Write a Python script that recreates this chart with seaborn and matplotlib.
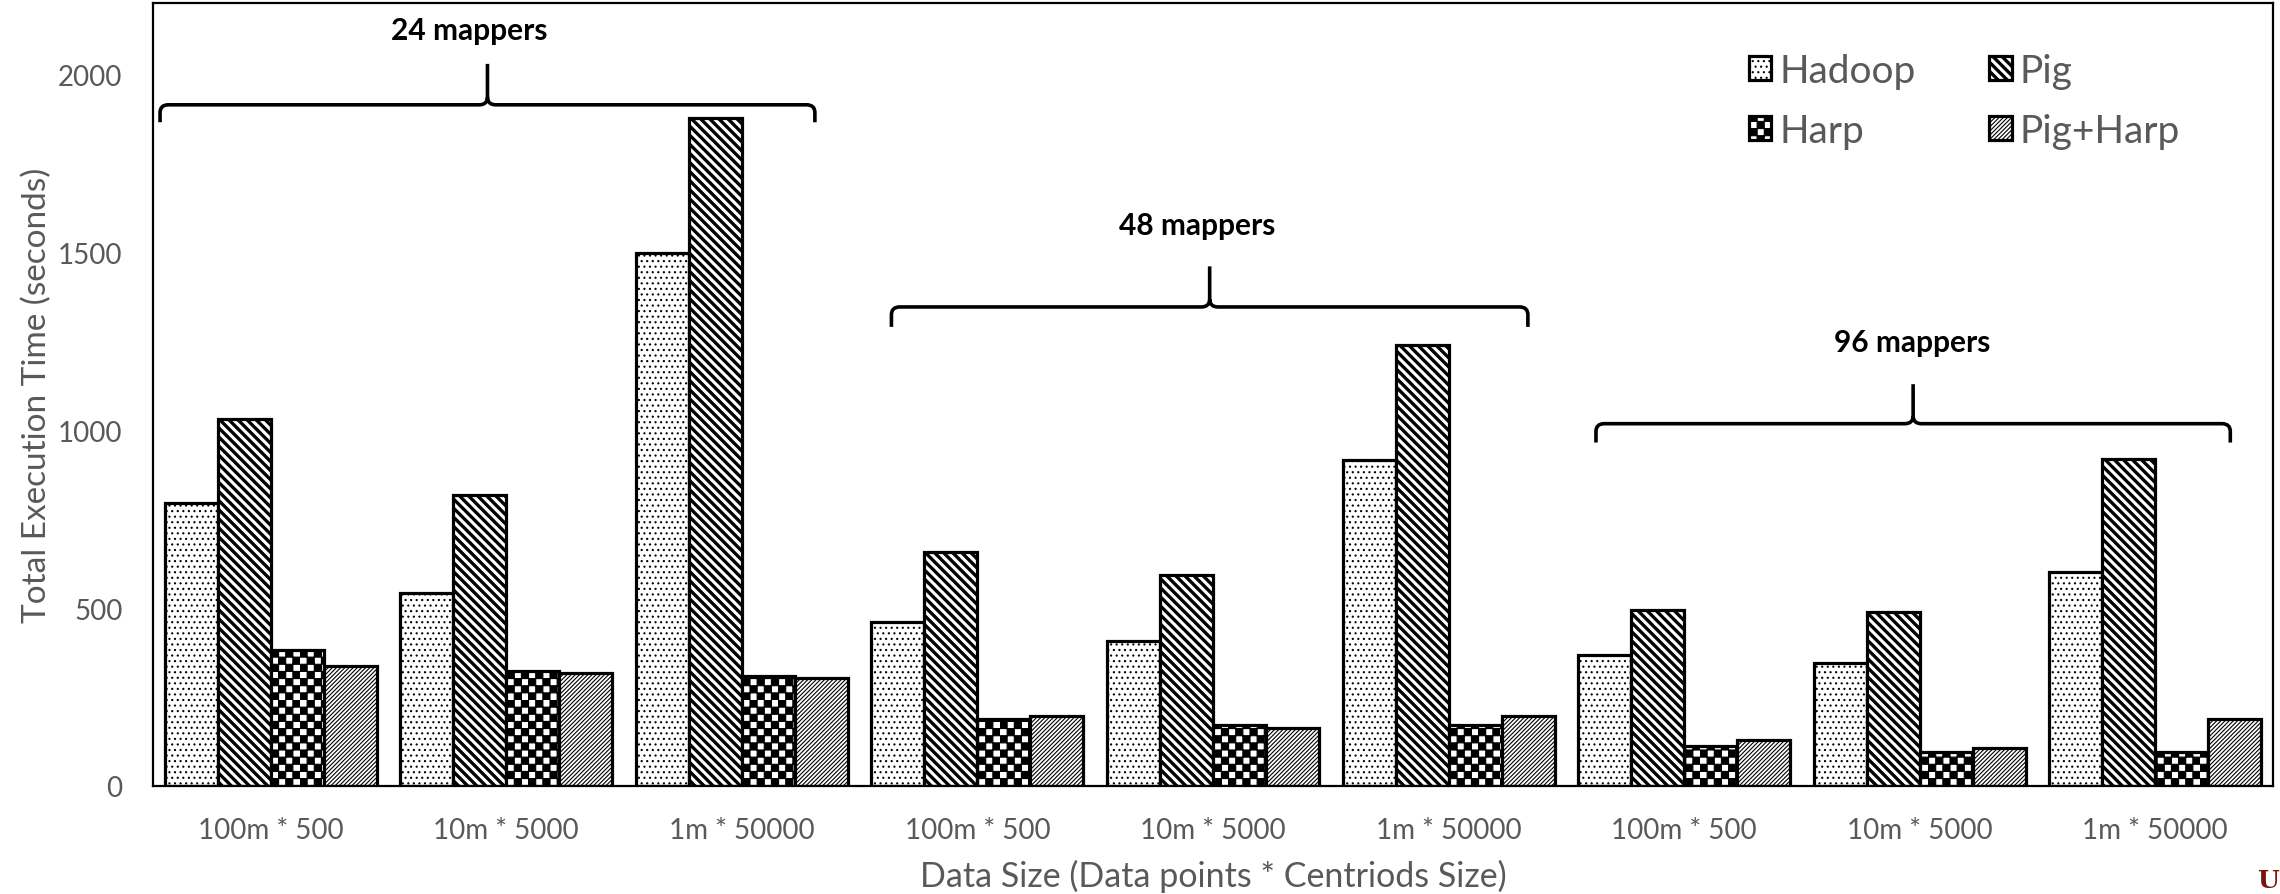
import numpy as np
import pandas as pd
import matplotlib
matplotlib.use("Agg")
import matplotlib.pyplot as plt
import matplotlib.hatch as mhatch
from matplotlib.path import Path
from matplotlib.patches import PathPatch
import seaborn as sns

# ---------------- data ----------------
tick_labels = ["100m * 500", "10m * 5000", "1m * 50000",
               "100m * 500", "10m * 5000", "1m * 50000",
               "100m * 500", "10m * 5000", "1m * 50000"]
systems = ["Hadoop", "Pig", "Harp", "Pig+Harp"]
hadoop = [796, 543, 1497, 460, 407, 917, 369, 346, 602]
pig = [1032, 817, 1877, 657, 592, 1239, 494, 490, 919]
harp = [381, 323, 310, 188, 171, 171, 112, 95, 95]
pig_harp = [338, 317, 302, 198, 163, 198, 130, 108, 188]
group_names = ["24 mappers", "48 mappers", "96 mappers"]
# bracket spans in category units (left, right), label x, and heights (line, end, tip, text)
bracket_x = [(-0.47, 2.31), (2.635, 5.337), (5.626, 8.319)]
label_x = [0.842, 3.931, 6.968]
bracket_y = [(1914, 1865, 2029, 2123), (1346, 1290, 1460, 1576), (1018, 965, 1129, 1248)]


# ---------------- custom hatch patterns ----------------
class CheckerHatch(mhatch.HatchPatternBase):
    """Checkerboard pattern bound to '*'."""
    filled = True

    def __init__(self, hatch, density):
        self.n = hatch.count('*') * 7
        self.num_vertices = (self.n * self.n // 2) * 5 if self.n else 0

    def set_vertices_and_codes(self, vertices, codes):
        n = self.n
        s = 1.0 / n
        k = 0
        for i in range(n):
            for j in range(n):
                if (i + j) % 2 == 0:
                    x, y = i * s, j * s
                    vertices[k:k + 5] = [(x, y), (x + s, y), (x + s, y + s), (x, y + s), (x, y)]
                    codes[k:k + 5] = [Path.MOVETO, Path.LINETO, Path.LINETO, Path.LINETO, Path.CLOSEPOLY]
                    k += 5


class BandHatch(mhatch.HatchPatternBase):
    """Thick back-diagonal filled stripes bound to 'O'."""
    filled = True

    def __init__(self, hatch, density):
        self.k = hatch.count('O') * 11
        self.nb = 2 * self.k + 4 if self.k else 0
        self.num_vertices = self.nb * 5

    def set_vertices_and_codes(self, vertices, codes):
        k = self.k
        w = 0.34 / k
        idx = 0
        for j in range(-2, 2 * k + 2):
            c = j / k
            vertices[idx:idx + 5] = [(-0.1, c - w / 2 + 0.1), (1.1, c - w / 2 - 1.1),
                                     (1.1, c + w / 2 - 1.1), (-0.1, c + w / 2 + 0.1),
                                     (-0.1, c - w / 2 + 0.1)]
            codes[idx:idx + 5] = [Path.MOVETO, Path.LINETO, Path.LINETO, Path.LINETO, Path.CLOSEPOLY]
            idx += 5


mhatch._hatch_types[:] = [CheckerHatch if t is mhatch.Stars else
                          (BandHatch if t is mhatch.LargeCircles else t)
                          for t in mhatch._hatch_types]

hatches = ["...", "O", "**", "////////"]

# ---------------- style ----------------
sns.set_theme(style="white")
plt.rcParams['font.family'] = ['Lato', 'DejaVu Sans']
plt.rcParams['hatch.linewidth'] = 0.8
plt.rcParams['hatch.color'] = 'black'
gray = '#595959'

df = pd.DataFrame({
    "group": np.tile(np.arange(len(tick_labels)), 4),
    "system": np.repeat(systems, len(tick_labels)),
    "time": hadoop + pig + harp + pig_harp,
})

fig = plt.figure(figsize=(22.8, 8.95), dpi=100)
ax = fig.add_axes([0.0671, 0.1207, 0.9298, 0.8748])

sns.barplot(data=df, x="group", y="time", hue="system", hue_order=systems,
            order=list(range(len(tick_labels))), palette=["white"] * 4,
            width=0.9, edgecolor="black", linewidth=2.3, saturation=1,
            legend=False, ax=ax)

for cont, h in zip(ax.containers, hatches):
    for p in cont.patches:
        p.set_hatch(h)

ax.set_xlim(-0.5, len(tick_labels) - 0.5)
ax.set_ylim(0, 2200)
ax.set_yticks([0, 500, 1000, 1500, 2000])
ax.set_xticks(range(len(tick_labels)))
ax.set_xticklabels(tick_labels)
ax.tick_params(axis='both', length=0, labelsize=20, labelcolor=gray)
ax.tick_params(axis='y', pad=22)
ax.tick_params(axis='x', pad=22)
ax.set_xlabel("Data Size (Data points * Centriods Size)", fontsize=24.5, color=gray, labelpad=12)
ax.set_ylabel("Total Execution Time (seconds)", fontsize=24, color=gray, labelpad=4)
for sp in ax.spines.values():
    sp.set_visible(True)
    sp.set_color("black")
    sp.set_linewidth(1.6)

# brackets + group labels
for name, (x0, x1), lx, (yl, ye, yt, ytx) in zip(group_names, bracket_x, label_x, bracket_y):
    xm = (x0 + x1) / 2
    rx, ry = 0.035, 22
    verts = [(x0, ye), (x0, yl - ry), (x0, yl), (x0 + rx, yl), (xm - rx, yl), (xm, yl), (xm, yl + ry),
             (xm, yt),
             (xm, yl + ry), (xm, yl), (xm + rx, yl), (x1 - rx, yl), (x1, yl), (x1, yl - ry), (x1, ye)]
    codes = [Path.MOVETO, Path.LINETO, Path.CURVE3, Path.CURVE3, Path.LINETO, Path.CURVE3, Path.CURVE3,
             Path.LINETO,
             Path.MOVETO, Path.CURVE3, Path.CURVE3, Path.LINETO, Path.CURVE3, Path.CURVE3, Path.LINETO]
    ax.add_patch(PathPatch(Path(verts, codes), fill=False, lw=2.6, edgecolor="black",
                           capstyle="butt", joinstyle="round"))
    ax.text(lx, ytx, name, ha="center", va="center", fontsize=21.5, fontweight="bold", color="black")

# legend (row-major order: Hadoop, Pig / Harp, Pig+Harp)
handles = [cont.patches[0] for cont in ax.containers]
order = [0, 2, 1, 3]
leg = fig.legend([handles[i] for i in order], [systems[i] for i in order],
                 loc="upper left", bbox_to_anchor=(0.767, 0.94),
                 ncol=2, frameon=False, fontsize=28, handlelength=0.58, handleheight=0.58,
                 handletextpad=0.2, columnspacing=1.9, labelspacing=0.62, borderpad=0,
                 borderaxespad=0)
for t in leg.get_texts():
    t.set_color(gray)

fig.text(0.9995, 0.002, "U", ha="right", va="bottom", fontsize=18, fontweight="bold",
         color="#7d110c", family="DejaVu Serif")

fig.savefig("out.png", dpi=100)
